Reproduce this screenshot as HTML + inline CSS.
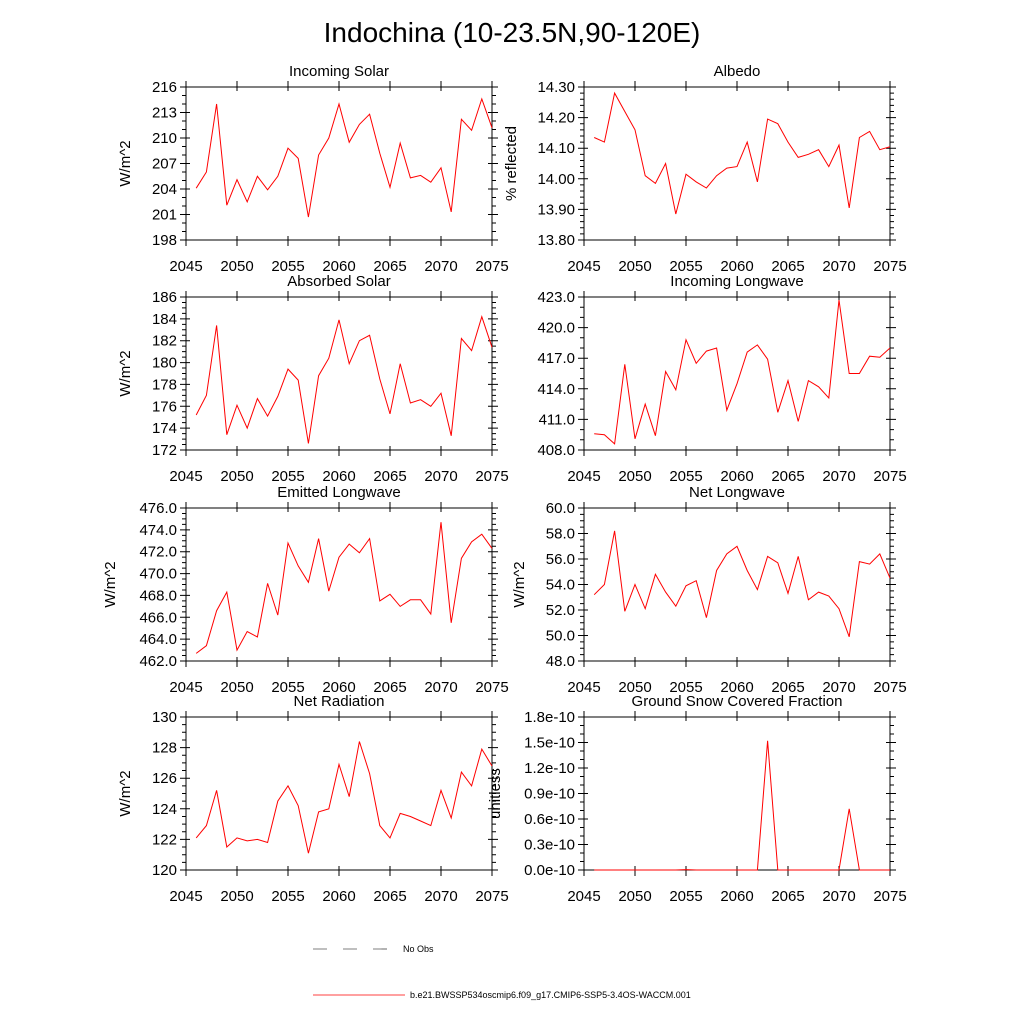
<!DOCTYPE html>
<html><head><meta charset="utf-8"><style>
body{margin:0;background:#fff;}
svg{display:block;font-family:"Liberation Sans",sans-serif;}
</style></head><body>
<svg id="chart" width="1024" height="1024" viewBox="0 0 1024 1024">
<text x="512" y="42" font-size="28" text-anchor="middle">Indochina (10-23.5N,90-120E)</text>
<g id="panels"></g>
<g>
<line x1="313" y1="949" x2="400" y2="949" stroke="#000" stroke-width="0.6" stroke-dasharray="14,16"/>
<text x="403" y="952" font-size="9">No Obs</text>
<line x1="313" y1="995" x2="405" y2="995" stroke="red" stroke-width="0.8"/>
<text x="410" y="998" font-size="9">b.e21.BWSSP534oscmip6.f09_g17.CMIP6-SSP5-3.4OS-WACCM.001</text>
</g>
</svg>
<script>
const years = [];
for (let y = 2046; y <= 2075; y++) years.push(y);
const incomingSolar = [204.1,206.0,214.0,202.1,205.1,202.5,205.5,203.9,205.5,208.8,207.6,200.7,208.0,210.0,214.0,209.5,211.6,212.8,208.2,204.2,209.4,205.3,205.6,204.8,206.5,201.3,212.2,210.9,214.6,211.2];
const albedo = [14.135,14.12,14.28,14.22,14.16,14.01,13.985,14.05,13.885,14.015,13.99,13.97,14.01,14.035,14.04,14.12,13.99,14.195,14.18,14.12,14.07,14.08,14.095,14.04,14.11,13.905,14.135,14.155,14.095,14.105];
const absorbedSolar = [175.2,177.0,183.4,173.4,176.1,174.0,176.7,175.1,176.9,179.4,178.4,172.6,178.8,180.4,183.9,179.9,182.0,182.5,178.5,175.3,179.9,176.3,176.6,176.0,177.2,173.3,182.2,181.1,184.2,181.4];
const incomingLongwave = [409.6,409.5,408.6,416.4,409.1,412.5,409.4,415.7,413.9,418.8,416.5,417.7,418.0,411.9,414.5,417.6,418.3,416.9,411.7,414.8,410.8,414.8,414.2,413.1,422.7,415.5,415.5,417.2,417.1,418.0];
const emittedLongwave = [462.7,463.4,466.6,468.3,463.0,464.7,464.2,469.1,466.2,472.8,470.7,469.2,473.2,468.4,471.5,472.7,471.9,473.2,467.5,468.1,467.0,467.6,467.6,466.3,474.7,465.5,471.4,472.9,473.6,472.3];
const netLongwave = [53.2,54.0,58.2,51.9,54.0,52.1,54.8,53.4,52.3,53.9,54.3,51.4,55.1,56.4,57.0,55.1,53.6,56.2,55.7,53.3,56.2,52.8,53.4,53.1,52.1,49.9,55.8,55.6,56.4,54.5];
const netRadiation = [122.1,122.9,125.2,121.5,122.1,121.9,122.0,121.8,124.5,125.5,124.2,121.1,123.8,124.0,126.9,124.8,128.4,126.3,122.9,122.1,123.7,123.5,123.2,122.9,125.2,123.4,126.4,125.5,127.9,126.8];
const snowFraction = [0,0,0,0,0,0,0,0,0,0.005,0,0,0,0,0,0,0,1.52,0,0,0,0,0,0,0,0.72,0,0,0,0];
const xTicks = [2045,2050,2055,2060,2065,2070,2075];
const ticksSolar = ["198","201","204","207","210","213","216"];
const ticksAlbedo = ["13.80","13.90","14.00","14.10","14.20","14.30"];
const ticksAbs = ["172","174","176","178","180","182","184","186"];
const ticksILW = ["408.0","411.0","414.0","417.0","420.0","423.0"];
const ticksELW = ["462.0","464.0","466.0","468.0","470.0","472.0","474.0","476.0"];
const ticksNLW = ["48.0","50.0","52.0","54.0","56.0","58.0","60.0"];
const ticksNR = ["120","122","124","126","128","130"];
const ticksSnow = ["0.0e-10","0.3e-10","0.6e-10","0.9e-10","1.2e-10","1.5e-10","1.8e-10"];

const panels = [
 {name:"incoming-solar",title:"Incoming Solar",data:incomingSolar,ticks:ticksSolar,min:198,max:216,minor:1,x:186,y:87,ylab:"W/m^2",lx:130},
 {name:"albedo",title:"Albedo",data:albedo,ticks:ticksAlbedo,min:13.8,max:14.3,minor:0.02,x:584,y:87,ylab:"% reflected",lx:516},
 {name:"absorbed-solar",title:"Absorbed Solar",data:absorbedSolar,ticks:ticksAbs,min:172,max:186,minor:0.5,x:186,y:297,ylab:"W/m^2",lx:130},
 {name:"incoming-longwave",title:"Incoming Longwave",data:incomingLongwave,ticks:ticksILW,min:408,max:423,minor:1,x:584,y:297,ylab:"",lx:0},
 {name:"emitted-longwave",title:"Emitted Longwave",data:emittedLongwave,ticks:ticksELW,min:462,max:476,minor:0.5,x:186,y:508,ylab:"W/m^2",lx:115},
 {name:"net-longwave",title:"Net Longwave",data:netLongwave,ticks:ticksNLW,min:48,max:60,minor:0.5,x:584,y:508,ylab:"W/m^2",lx:524},
 {name:"net-radiation",title:"Net Radiation",data:netRadiation,ticks:ticksNR,min:120,max:130,minor:0.5,x:186,y:717,ylab:"W/m^2",lx:130},
 {name:"ground-snow",title:"Ground Snow Covered Fraction",data:snowFraction,ticks:ticksSnow,min:0,max:1.8,minor:0.1,x:584,y:717,ylab:"unitless",lx:500}
];
const W=306,H=153,NS="http://www.w3.org/2000/svg";
const root=document.getElementById("panels");
function mk(tag,attrs,parent){const e=document.createElementNS(NS,tag);for(const k in attrs)e.setAttribute(k,attrs[k]);parent.appendChild(e);return e;}
panels.forEach(p=>{
 const g=mk("g",{},root);
 
 
 const xs=v=>p.x+(v-2045)/30*W;
 const ys=v=>p.y+H-(v-p.min)/(p.max-p.min)*H;
 const t=mk("text",{x:p.x+W/2,y:p.y-11,"font-size":15,"text-anchor":"middle"},g);
 t.textContent=p.title;
 
 
 let d="";
 const nMin=Math.round((p.max-p.min)/p.minor);
 for(let i=0;i<=nMin;i++){const yy=ys(p.min+i*p.minor);d+=`M${p.x-4},${yy}H${p.x}M${p.x+W},${yy}H${p.x+W+4}`;}
 const nT=p.ticks.length;
 p.ticks.forEach((lab,i)=>{
  const v=p.min+i*(p.max-p.min)/(nT-1);const yy=ys(v);
  d+=`M${p.x-6},${yy}H${p.x+4}M${p.x+W-4},${yy}H${p.x+W+6}`;
  const tt=mk("text",{x:p.x-9,y:yy+5,"font-size":15,"text-anchor":"end"},g);
  tt.textContent=lab;
  
  
 });
 xTicks.forEach(v=>{
  const xx=xs(v);
  d+=`M${xx},${p.y+H+6}V${p.y+H-4}M${xx},${p.y-6}V${p.y+4}`;
  const tt=mk("text",{x:xx,y:p.y+H+31,"font-size":15,"text-anchor":"middle"},g);
  tt.textContent=v;
  
  
 });
 const tk=mk("path",{d:d,stroke:"#000","stroke-width":1,fill:"none"},g);
 
 
 const fr=mk("rect",{x:p.x,y:p.y,width:W,height:H,fill:"none",stroke:"#000","stroke-width":1},g);
 
 
 if(p.ylab){
  const yl=mk("text",{x:p.lx,y:p.y+H/2,"font-size":15,"text-anchor":"middle",transform:`rotate(-90 ${p.lx} ${p.y+H/2})`},g);
  yl.textContent=p.ylab;
  
  
 }
 const pts=p.data.map((v,i)=>`${xs(years[i]).toFixed(1)},${ys(v).toFixed(1)}`).join(" ");
 const ln=mk("polyline",{points:pts,fill:"none",stroke:"red","stroke-width":1},g);
 
 
});
</script>
</body></html>
